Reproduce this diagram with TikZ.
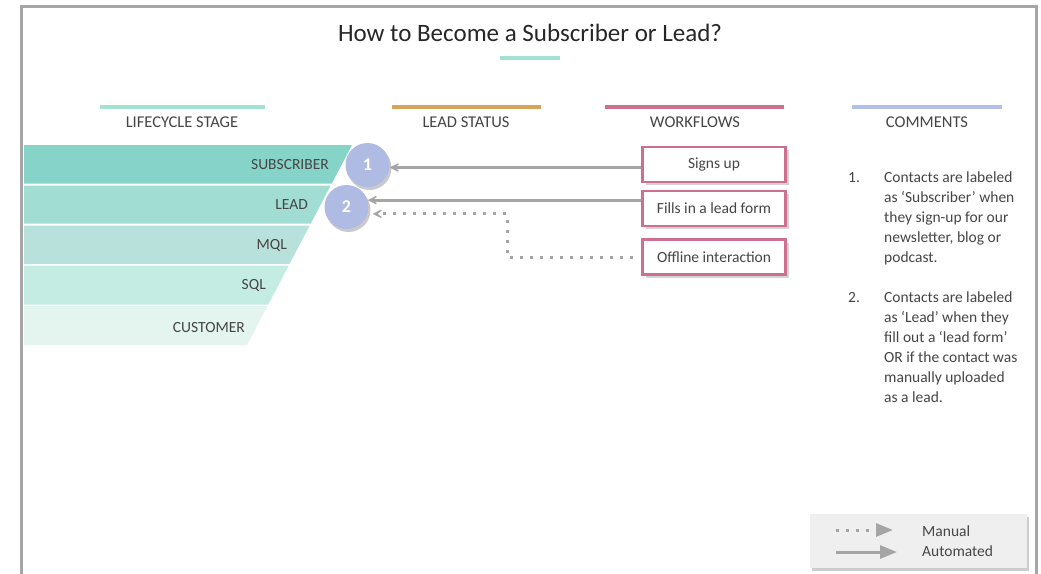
\documentclass[tikz,border=0pt]{standalone}
\usepackage{fontspec}
\setmainfont{Carlito}
\usetikzlibrary{arrows.meta,shadows,calc}

\definecolor{frameGray}{HTML}{A6A6A6}
\definecolor{arrowGray}{HTML}{A5A5A5}
\definecolor{inkGray}{HTML}{454545}
\definecolor{tealLine}{HTML}{A3E1D3}
\definecolor{orangeLine}{HTML}{D9A35B}
\definecolor{pinkLine}{HTML}{CD6F8F}
\definecolor{blueLine}{HTML}{B2BFE6}
\definecolor{circleBlue}{HTML}{AFBBE3}
\definecolor{rowA}{HTML}{86D3C7}
\definecolor{rowB}{HTML}{A1DDD3}
\definecolor{rowC}{HTML}{B8E1DC}
\definecolor{rowD}{HTML}{C5ECE3}
\definecolor{rowE}{HTML}{E4F4EF}
\definecolor{legendFill}{HTML}{EFEFEF}

\begin{document}
\begin{tikzpicture}[x=1pt,y=-1pt,
  headtext/.style={font=\fontsize{16.5}{19}\selectfont, text=inkGray, inner sep=0pt},
  rowlabel/.style={font=\fontsize{15.5}{18}\selectfont, text=inkGray, inner sep=0pt, anchor=east},
  headline/.style={line width=3.5pt},
  badge/.style={circle, fill=circleBlue, minimum size=44pt, inner sep=0pt,
    font=\fontsize{18}{21}\selectfont\bfseries, text=white,
    drop shadow={shadow xshift=2pt, shadow yshift=-3pt, opacity=0.35, fill=black!60}},
  flowbox/.style={draw=pinkLine, line width=2.8pt, fill=white, minimum width=143pt,
    minimum height=35pt, inner sep=0pt, font=\fontsize{15.5}{18}\selectfont, text=inkGray,
    drop shadow={shadow xshift=3pt, shadow yshift=-3pt, opacity=0.35, fill=black!50}},
  auto/.style={draw=arrowGray, line width=3pt,
    -{Stealth[length=14pt, width=14pt, inset=9pt]}},
  manual/.style={draw=arrowGray, line width=3pt, dash pattern=on 3pt off 7pt,
    -{Stealth[length=14pt, width=14pt, inset=9pt]}},
  legendauto/.style={draw=arrowGray, line width=3pt, -{Triangle[length=17pt, width=13pt]}},
  legendmanual/.style={draw=arrowGray, line width=3pt, dash pattern=on 3pt off 7pt,
    -{Triangle[length=17pt, width=13pt]}},
  note/.style={font=\fontsize{15.5}{20}\selectfont, text=inkGray, inner sep=0pt,
    anchor=north west, align=left},
  legendtext/.style={font=\fontsize{15.5}{18}\selectfont, text=inkGray, anchor=west, inner sep=0pt}
]
\useasboundingbox (0,0) rectangle (1041,573);

% outer frame, open at the bottom
\draw[frameGray, line width=3pt] (21,575) -- (21,6) -- (1036,6) -- (1036,575);

% title
\node[font=\fontsize{25}{29}\selectfont, text=black!85, inner sep=0pt] (title) at (530,33)
  {How to Become a Subscriber or Lead?};
\draw[tealLine, headline] (500,58) -- (560,58);

% column headings
\draw[tealLine, headline] (100,107) -- (265,107);
\draw[orangeLine, headline] (392,107) -- (541,107);
\draw[pinkLine, headline] (605,107) -- (784,107);
\draw[blueLine, headline] (852,107) -- (1002,107);
\node[headtext] (hstage) at (182,122) {LIFECYCLE STAGE};
\node[headtext] (hstatus) at (466,122) {LEAD STATUS};
\node[headtext] (hflow) at (695,122) {WORKFLOWS};
\node[headtext] (hcomm) at (927,122) {COMMENTS};

% lifecycle funnel
\fill[rowA] (24,145)   -- (352,145)   -- (331.8,183.5) -- (24,183.5) -- cycle;
\fill[rowB] (24,185.5) -- (330.7,185.5) -- (310.8,223.5) -- (24,223.5) -- cycle;
\fill[rowC] (24,225.5) -- (309.7,225.5) -- (289.5,264) -- (24,264) -- cycle;
\fill[rowD] (24,265.5) -- (288.8,265.5) -- (268.3,304.5) -- (24,304.5) -- cycle;
\fill[rowE] (24,306)   -- (267.5,306) -- (247,345) -- (24,345) -- cycle;
\node[rowlabel] (lsub) at (329,165) {SUBSCRIBER};
\node[rowlabel] (llead) at (308,205) {LEAD};
\node[rowlabel] (lmql) at (287,245) {MQL};
\node[rowlabel] (lsql) at (266,285) {SQL};
\node[rowlabel] (lcust) at (245,328) {CUSTOMER};

% lead status badges
\node[badge] (c1) at (367.5,165) {1};
\node[badge] (c2) at (346.5,207) {2};

% workflows
\node[flowbox] (b1) at (714,164.5) {Signs up};
\node[flowbox] (b2) at (714,208.5) {Fills in a lead form};
\node[flowbox] (b3) at (714,257) {Offline interaction};

% connectors
\draw[auto] ([yshift=-3pt]b1.west) -- ([yshift=-3pt]b1.west -| c1.east);
\draw[auto] (c2.18 -| b2.west) -- (c2.18);
\coordinate (bend) at (507,257);
\draw[manual, shorten >=5pt] ([xshift=-8pt]b3.west) -- (bend) -- (bend |- c2.-18) -- (c2.-18);

% comments
\node[note] (n1) at (848,172) {1.};
\node[note] (t1) at (884,172) {Contacts are labeled\\as ‘Subscriber’ when\\they sign-up for our\\newsletter, blog or\\podcast.};
\node[note] (n2) at (848,292) {2.};
\node[note] (t2) at (884,292) {Contacts are labeled\\as ‘Lead’ when they\\fill out a ‘lead form’\\OR if the contact was\\manually uploaded\\as a lead.};

% legend
\node[fill=legendFill, minimum width=217pt, minimum height=54pt, inner sep=0pt,
  drop shadow={shadow xshift=2.5pt, shadow yshift=-2.5pt, opacity=0.4, fill=black!50}]
  (legend) at (918,541) {};
\coordinate (m0) at (836,530);
\coordinate (m1) at (893,530);
\coordinate (a0) at (836,552);
\coordinate (a1) at (897,552);
\draw[legendmanual] (m0) -- (m1);
\draw[legendauto] (a0) -- (a1);
\node[legendtext] (lm) at (922,531) {Manual};
\node[legendtext] (la) at (922,551) {Automated};
\end{tikzpicture}
\end{document}
